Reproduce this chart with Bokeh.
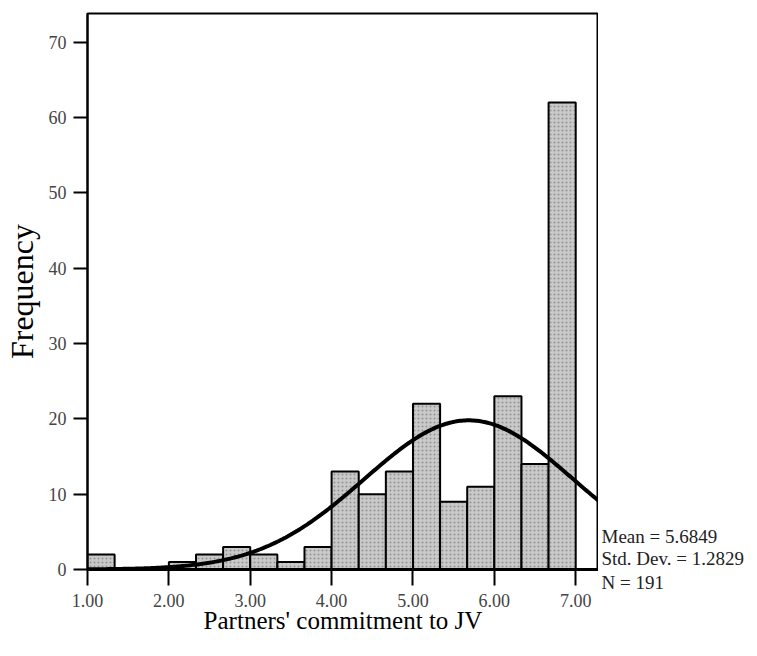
import numpy as np
from bokeh.plotting import figure
from bokeh.layouts import row, column
from bokeh.models import FixedTicker, NumeralTickFormatter, ColumnDataSource, Range1d
from bokeh.core.properties import value
from bokeh.embed import file_html
from bokeh.resources import INLINE

# ---- data ----
bin_start = 1.0
bin_width = 1.0 / 3.0
counts = [2, 0, 0, 1, 2, 3, 2, 1, 3, 13, 10, 13, 22, 9, 11, 23, 14, 62]
x_ticks = [1, 2, 3, 4, 5, 6, 7]
y_ticks = [0, 10, 20, 30, 40, 50, 60, 70]
mean_val = 5.6849
sd_val = 1.2829
n_val = 191
stats_lines = ["Mean = 5.6849", "Std. Dev. = 1.2829", "N = 191"]

SERIF = "Liberation Serif"

lefts = [bin_start + i * bin_width for i in range(len(counts))]
rights = [l + bin_width for l in lefts]
src = ColumnDataSource(dict(left=lefts, right=rights, top=counts, bottom=[0] * len(counts)))

p = figure(width=598, height=640, output_backend="svg", toolbar_location=None,
           x_range=Range1d(1.0, 7.28), y_range=Range1d(0, 73.8),
           min_border_left=85, min_border_top=13, min_border_right=0, min_border_bottom=71)

p.quad(left="left", right="right", top="top", bottom="bottom", source=src,
       fill_color="#c9c9c9", line_color="black", line_width=2,
       hatch_pattern=".", hatch_color="#6f6f6f", hatch_scale=4, hatch_weight=1, hatch_alpha=0.6)

# normal curve overlay defined by the reported statistics
xs = np.linspace(1.0, 7.28, 300)
ys = n_val * bin_width / (sd_val * np.sqrt(2 * np.pi)) * np.exp(-0.5 * ((xs - mean_val) / sd_val) ** 2)
p.line(xs, ys, line_color="black", line_width=4)

p.grid.visible = False
p.outline_line_color = "black"
p.outline_line_width = 2
p.background_fill_color = "white"
p.border_fill_color = "white"

p.xaxis.ticker = FixedTicker(ticks=x_ticks)
p.xaxis.formatter = NumeralTickFormatter(format="0.00")
p.yaxis.ticker = FixedTicker(ticks=y_ticks)

for ax in (p.xaxis, p.yaxis):
    ax.axis_line_color = "black"
    ax.major_tick_line_color = "black"
    ax.major_tick_line_width = 2
    ax.minor_tick_line_color = None
    ax.major_label_text_font = SERIF
    ax.major_label_text_font_size = "18px"
    ax.major_label_text_color = "#444444"
    ax.axis_label_text_font = SERIF
    ax.axis_label_text_font_style = "normal"
    ax.axis_label_text_color = "black"

p.xaxis.axis_line_width = 3
p.yaxis.axis_line_width = 2
p.xaxis.major_tick_out = 16
p.xaxis.major_tick_in = 0
p.yaxis.major_tick_out = 14
p.yaxis.major_tick_in = 0
p.xaxis.major_label_standoff = 8
p.yaxis.major_label_standoff = 7

p.xaxis.axis_label = "Partners' commitment to JV"
p.xaxis.axis_label_text_font_size = "25px"
p.xaxis.axis_label_standoff = -3
p.yaxis.axis_label = "Frequency"
p.yaxis.axis_label_text_font_size = "32px"
p.yaxis.axis_label_standoff = 6

# side panel holding the statistics text (pixel coordinates)
q = figure(width=150, height=640, output_backend="svg", toolbar_location=None,
           x_range=Range1d(0, 150), y_range=Range1d(640, 0),
           x_axis_location=None, y_axis_location=None,
           min_border_left=0, min_border_right=0, min_border_top=0, min_border_bottom=0)
q.grid.visible = False
q.outline_line_color = None
q.background_fill_color = "white"
q.border_fill_color = "white"
q.text(x=[3, 3, 3], y=[536, 558, 582], text=stats_lines,
       text_font=value(SERIF), text_font_size="19px", text_color="#222222",
       text_baseline="middle", text_align="left")

layout = row(p, column(q), spacing=0)
open("out.html", "w").write(file_html(layout, INLINE))
